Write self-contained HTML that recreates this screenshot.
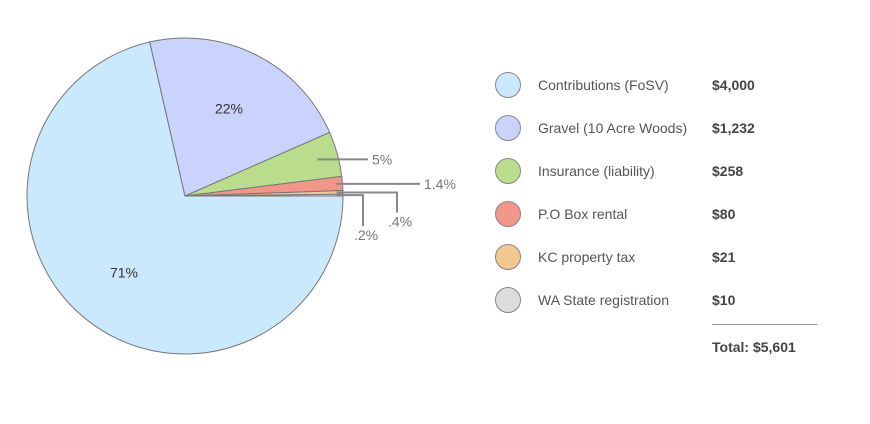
<!DOCTYPE html>
<html><head><meta charset="utf-8"><style>
body{margin:0;background:#fff;font-family:"Liberation Sans",sans-serif;}
svg{display:block}
</style></head><body>
<svg id="chart" width="870" height="424">
<g id="pie"></g>
<g id="legend"></g>
</svg>
<script>
const categories=["Contributions (FoSV)","Gravel (10 Acre Woods)","Insurance (liability)","P.O Box rental","KC property tax","WA State registration"];
const values=[4000,1232,258,80,21,10];
const valueLabels=["$4,000","$1,232","$258","$80","$21","$10"];
const pctLabels=["71%","22%","5%","1.4%",".4%",".2%"];
const colors=["#cbe9fd","#c9d3fb","#b9dd8d","#f2968a","#f3c88e","#dcdcdc"];
const NS="http://www.w3.org/2000/svg";
const cx=185,cy=196,r=158,startDeg=90;
const total=values.reduce((a,b)=>a+b,0);
function mk(t,a,p){const e=document.createElementNS(NS,t);for(const k in a)e.setAttribute(k,a[k]);p.appendChild(e);return e;}
function pt(deg,rad){const a=deg*Math.PI/180;return [cx+rad*Math.sin(a),cy-rad*Math.cos(a)];}
const pie=document.getElementById('pie');
let ang=startDeg;
const mids=[];
values.forEach((v,i)=>{
  const sweep=v/total*360;
  const a0=ang,a1=ang+sweep;ang=a1;
  const p0=pt(a0,r),p1=pt(a1,r);
  const large=sweep>180?1:0;
  const path=mk('path',{d:`M${cx},${cy}L${p0[0]},${p0[1]}A${r},${r} 0 ${large} 1 ${p1[0]},${p1[1]}Z`,fill:colors[i],stroke:'#777','stroke-width':1},pie);
  
  
  mids.push((a0+a1)/2);
});
// inside labels for big slices
[0,1].forEach(i=>{
  const p=pt(mids[i],r*0.62);
  const t=mk('text',{x:p[0],y:p[1]+5,'text-anchor':'middle','font-size':14,fill:'#333'},pie);
  t.textContent=pctLabels[i];
  
  
});
// leader labels for small slices
const leaderSpec=[null,null,{end:368,drop:0},{end:420,drop:0},{end:397,drop:20},{end:363,drop:31}];
[2,3,4,5].forEach(i=>{
  const s=leaderSpec[i];
  const inner=pt(mids[i],i===2?r*0.87:r*0.96);
  const y=inner[1];
  let d=`M${inner[0]},${y}H${s.end}`;
  if(s.drop)d+=`V${y+s.drop}`;
  const l=mk('path',{d:d,fill:'none',stroke:'#888','stroke-width':2},pie);
  
  
  const t=mk('text',{'font-size':14,fill:'#777'},pie);
  if(s.drop){t.setAttribute('x',s.end+3);t.setAttribute('y',y+s.drop+14);t.setAttribute('text-anchor','middle');}
  else{t.setAttribute('x',s.end+4);t.setAttribute('y',y+5);}
  t.textContent=pctLabels[i];
  
  
});
const lg=document.getElementById('legend');
categories.forEach((c,i)=>{
  const y=85+i*43;
  const g=mk('g',{},lg);
  
  
  const ci=mk('circle',{cx:508,cy:y,r:12.5,fill:colors[i],stroke:'#888','stroke-width':1},g);
  
  
  const t=mk('text',{x:538,y:y+5,'font-size':14,fill:'#555'},g);
  t.textContent=c;
  
  
  const v=mk('text',{x:712,y:y+5,'font-size':14,'font-weight':'bold',fill:'#444'},g);
  v.textContent=valueLabels[i];
  
  
});
const ln=mk('line',{x1:712,x2:817,y1:324.5,y2:324.5,stroke:'#999','stroke-width':1},lg);


const tt=mk('text',{x:712,y:352,'font-size':14,'font-weight':'bold',fill:'#444'},lg);
tt.textContent="Total: $5,601";


</script>
</body></html>
